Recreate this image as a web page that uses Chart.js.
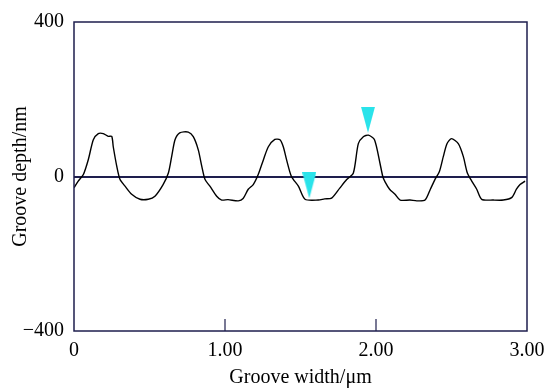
<!DOCTYPE html>
<html>
<head>
<meta charset="utf-8">
<script src="https://cdn.jsdelivr.net/npm/chart.js@4/dist/chart.umd.min.js"></script>
<style>
  body { margin: 0; background: #fff; }
</style>
</head>
<body>
<canvas id="chart" width="558" height="392"></canvas>
<script>
// profile: groove width (um) / groove depth (nm)
const widthUm = [0, 0.028, 0.062, 0.095, 0.128, 0.161, 0.194, 0.227, 0.25, 0.26, 0.283, 0.305, 0.338, 0.382, 0.437, 0.492, 0.536, 0.59, 0.625, 0.647, 0.669, 0.70, 0.757, 0.79, 0.823, 0.846, 0.868, 0.90, 0.945, 0.978, 1.02, 1.088, 1.12, 1.154, 1.187, 1.22, 1.254, 1.287, 1.33, 1.364, 1.386, 1.408, 1.44, 1.486, 1.53, 1.618, 1.66, 1.706, 1.76, 1.806, 1.85, 1.883, 1.916, 1.95, 1.99, 2.026, 2.045, 2.06, 2.09, 2.126, 2.16, 2.225, 2.27, 2.325, 2.36, 2.39, 2.42, 2.446, 2.47, 2.5, 2.545, 2.578, 2.605, 2.634, 2.667, 2.70, 2.777, 2.843, 2.90, 2.93, 2.954, 2.987];
const depthNm = [-29, -12, 5, 44, 95, 111, 111, 104, 104, 77, 27, -8, -25, -46, -59, -59, -51, -21, 9, 52, 95, 113, 115, 103, 69, 27, -8, -25, -51, -61, -60, -63, -57, -33, -21, 5, 43, 77, 96, 95, 77, 43, 0, -25, -59, -61, -58, -56, -30, -8, 9, 85, 103, 107, 95, 35, 0, -14, -33, -46, -61, -61, -63, -61, -33, -8, 13, 52, 85, 98, 85, 52, 9, -12, -33, -59, -61, -61, -54, -33, -21, -12];

// the two cyan markers
const markerX = [1.558, 1.947];
const markerY = [-23, 147];

const xTicks = [0, 1, 2, 3];
const yTicks = [-400, 0, 400];

const navy = '#1e1e4e';
const cyan = '#2ae3ea';
const font = { family: '"Liberation Serif", "Times New Roman", serif', size: 20 };

// narrow downward triangle for the markers
const tri = document.createElement('canvas');
tri.width = 14;
tri.height = 26;
const tctx = tri.getContext('2d');
tctx.fillStyle = cyan;
tctx.beginPath();
tctx.moveTo(0, 0);
tctx.lineTo(14, 0);
tctx.lineTo(7, 26);
tctx.closePath();
tctx.fill();

const profile = widthUm.map((x, i) => ({ x: x, y: depthNm[i] }));
const markers = markerX.map((x, i) => ({ x: x, y: markerY[i] }));

// frame round the plot and the inward ticks on the x axis
const framePlugin = {
  id: 'frame',
  afterDraw(chart) {
    const { ctx, chartArea: a, scales } = chart;
    ctx.save();
    ctx.strokeStyle = navy;
    ctx.lineWidth = 1.5;
    ctx.strokeRect(a.left, a.top, a.right - a.left, a.bottom - a.top);
    ctx.lineWidth = 1.2;
    xTicks.slice(1, -1).forEach(v => {
      const px = scales.x.getPixelForValue(v);
      ctx.beginPath();
      ctx.moveTo(px, a.bottom);
      ctx.lineTo(px, a.bottom - 12);
      ctx.stroke();
    });
    ctx.restore();
  }
};

new Chart(document.getElementById('chart'), {
  type: 'line',
  data: {
    datasets: [
      {
        label: 'markers',
        data: markers,
        showLine: false,
        pointStyle: tri,
        pointRadius: 7,
        order: 0
      },
      {
        label: 'profile',
        data: profile,
        borderColor: '#000',
        borderWidth: 1.4,
        pointRadius: 0,
        tension: 0.25,
        fill: false,
        order: 1
      }
    ]
  },
  options: {
    responsive: false,
    animation: false,
    layout: { padding: { top: 17, right: 31, left: 0, bottom: 0 } },
    plugins: {
      legend: { display: false },
      tooltip: { enabled: false }
    },
    scales: {
      x: {
        type: 'linear',
        min: 0,
        max: 3,
        afterBuildTicks: s => { s.ticks = xTicks.map(v => ({ value: v })); },
        afterFit: s => { s.height = 61; },
        border: { display: false },
        grid: { display: false, drawTicks: false },
        ticks: {
          color: '#000',
          font: font,
          padding: 8,
          maxRotation: 0,
          callback: v => v === 0 ? '0' : v.toFixed(2)
        },
        title: {
          display: true,
          text: 'Groove width/μm',
          color: '#000',
          font: font,
          padding: { top: 0, bottom: 2 }
        }
      },
      y: {
        min: -400,
        max: 400,
        afterBuildTicks: s => { s.ticks = yTicks.map(v => ({ value: v })); },
        afterFit: s => { s.width = 74; },
        border: { display: false },
        grid: {
          drawTicks: false,
          color: c => c.tick && c.tick.value === 0 ? navy : 'rgba(0,0,0,0)',
          lineWidth: 2
        },
        ticks: {
          color: '#000',
          font: font,
          padding: 10,
          callback: v => v < 0 ? '−' + Math.abs(v) : String(v)
        },
        title: {
          display: true,
          text: 'Groove depth/nm',
          color: '#000',
          font: font,
          padding: { top: 9, bottom: 0 }
        }
      }
    }
  },
  plugins: [framePlugin]
});
</script>
</body>
</html>
